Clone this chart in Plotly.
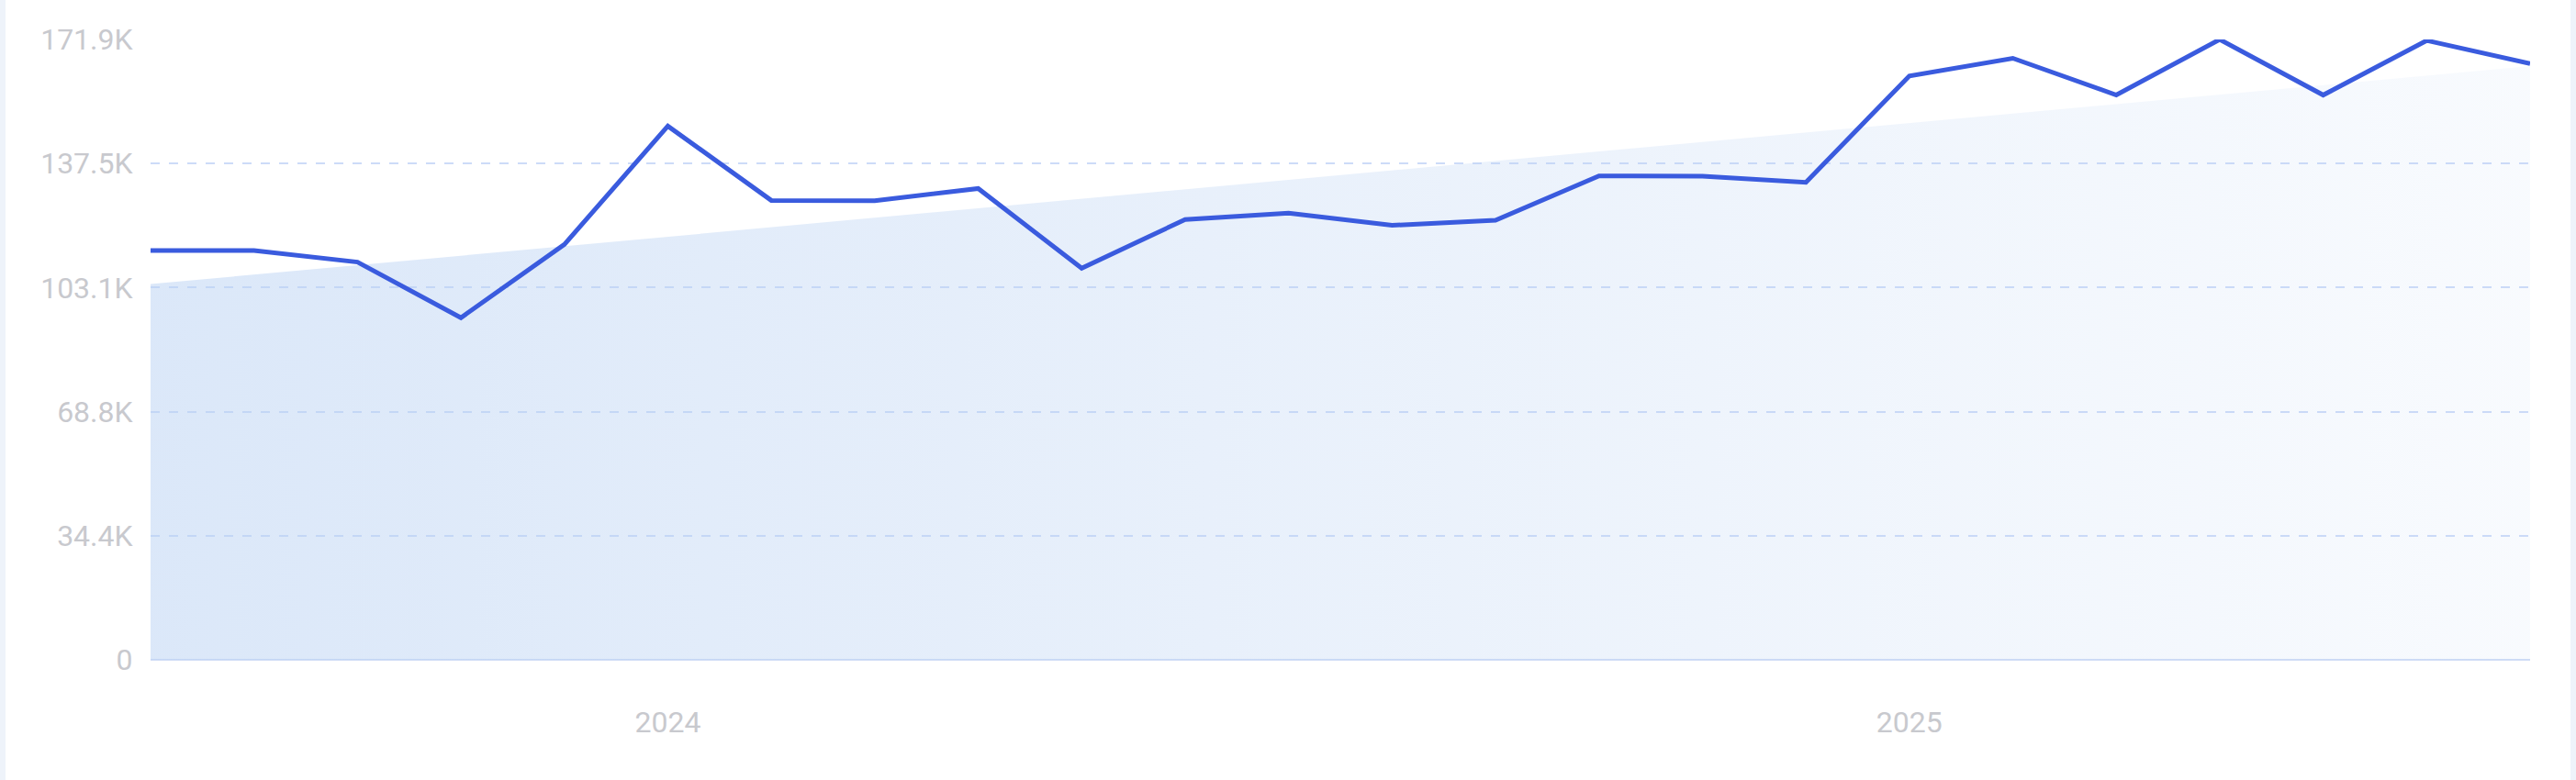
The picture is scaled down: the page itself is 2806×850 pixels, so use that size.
import plotly.graph_objects as go

months = ['2023-08', '2023-09', '2023-10', '2023-11', '2023-12',
          '2024-01', '2024-02', '2024-03', '2024-04', '2024-05', '2024-06',
          '2024-07', '2024-08', '2024-09', '2024-10', '2024-11', '2024-12',
          '2025-01', '2025-02', '2025-03', '2025-04', '2025-05', '2025-06',
          '2025-07']
visits = [113400, 113400, 110200, 94800, 115100, 147900, 127300, 127200,
          130600, 108500, 122000, 123800, 120400, 121800, 134100, 134000,
          132300, 161800, 166700, 156500, 171900, 156500, 171600, 165200]
trend = [104100, 164500]

x_tickvals = ['2024-01', '2025-01']
x_ticktext = ['2024', '2025']
y_tickvals = [0, 34380, 68760, 103140, 137520, 171900]
y_ticktext = ['0', '34.4K', '68.8K', '103.1K', '137.5K', '171.9K']

W, H = 2806, 850
L, R, T, B = 164, 50, 43, 131
pw, ph = W - L - R, H - T - B

fig = go.Figure()
fig.add_trace(go.Scatter(x=[months[0], months[-1]], y=trend,
                         mode='lines', line=dict(width=0),
                         fill='tozeroy',
                         fillgradient=dict(type='horizontal',
                                           colorscale=[[0, 'rgba(186,210,243,0.52)'],
                                                       [1, 'rgba(186,210,243,0.10)']]),
                         hoverinfo='skip', showlegend=False))
fig.add_trace(go.Scatter(x=months, y=visits, mode='lines',
                         line=dict(color='#3a5bde', width=5),
                         showlegend=False))

# thin page strips at the left and right edges
for px0, px1 in [(0, 6), (W - 6, W)]:
    fig.add_shape(type='rect', xref='paper', yref='paper', layer='below',
                  x0=(px0 - L) / pw, x1=(px1 - L) / pw,
                  y0=-B / ph, y1=1 + T / ph,
                  fillcolor='#eef3fa', line=dict(width=0))

fig.update_layout(
    width=W, height=H,
    margin=dict(l=L, r=R, t=T, b=B),
    paper_bgcolor='white', plot_bgcolor='white',
    font=dict(family='Roboto', size=32, color='#c8c9ce'),
    xaxis=dict(type='category', categoryorder='array', categoryarray=months,
               range=[0, len(months) - 1],
               tickvals=x_tickvals, ticktext=x_ticktext,
               showgrid=False, zeroline=False, showline=False,
               ticks='', ticklabelstandoff=46),
    yaxis=dict(range=[0, 171900], tickvals=y_tickvals, ticktext=y_ticktext,
               showgrid=True, gridcolor='#cddbf8', gridwidth=2,
               griddash='10px,10px',
               zeroline=True, zerolinecolor='#cfdcf6', zerolinewidth=2,
               showline=False, ticks='outside', ticklen=12,
               tickcolor='rgba(0,0,0,0)'),
)

fig.write_html("out.html", config={'displayModeBar': False},
               post_script="document.body.style.margin='0';")
